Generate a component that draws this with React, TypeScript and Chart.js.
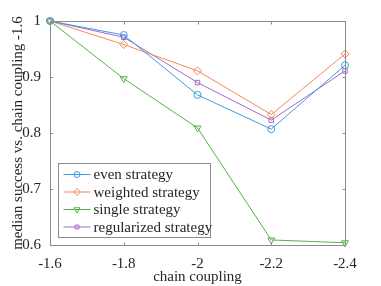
import { useEffect, useRef } from 'react';
import { Chart, registerables } from 'chart.js';
import { drawPoint } from 'chart.js/helpers';

Chart.register(...registerables);

const couplings = [-1.6, -1.8, -2.0, -2.2, -2.4];
const xTickLabels = ['-1.6', '-1.8', '-2', '-2.2', '-2.4'];
const yTicks = [0.6, 0.7, 0.8, 0.9, 1.0];
const evenStrategy = [1.0, 0.975, 0.868, 0.807, 0.921];
const weightedStrategy = [1.0, 0.958, 0.911, 0.833, 0.941];
const singleStrategy = [1.0, 0.897, 0.809, 0.609, 0.604];
const regularizedStrategy = [1.0, 0.971, 0.890, 0.823, 0.911];
const seriesNames = ['even strategy', 'weighted strategy', 'single strategy', 'regularized strategy'];

const FONT = "'Liberation Serif', 'DejaVu Serif', serif";
const FS = 15;
const AXIS = '#8c8c8c';
const TEXT = '#262626';

const colors = ['#3d9be0', '#f08a5a', '#56b04a', '#a868c6'];
const styles: any[] = ['circle', 'rectRot', 'triangle', 'rect'];
const rotations = [0, 0, 180, 0];
const radii = [3.5, 4, 4, 3.2];

const framePlugin = {
  id: 'frame',
  afterDraw(chart: any) {
    const { ctx, chartArea: a, scales } = chart;
    ctx.save();
    ctx.strokeStyle = AXIS;
    ctx.lineWidth = 1;
    const L = Math.round(a.left) + 0.5;
    const R = Math.round(a.right) + 0.5;
    const T = Math.round(a.top) + 0.5;
    const B = Math.round(a.bottom) + 0.5;
    ctx.strokeRect(L, T, R - L, B - T);
    const tl = 3;
    ctx.beginPath();
    couplings.forEach((v) => {
      const x = Math.round(scales.x.getPixelForValue(v)) + 0.5;
      ctx.moveTo(x, B); ctx.lineTo(x, B - tl);
      ctx.moveTo(x, T); ctx.lineTo(x, T + tl);
    });
    yTicks.forEach((v) => {
      const y = Math.round(scales.y.getPixelForValue(v)) + 0.5;
      ctx.moveTo(L, y); ctx.lineTo(L + tl, y);
      ctx.moveTo(R, y); ctx.lineTo(R - tl, y);
    });
    ctx.stroke();

    // legend
    const lx = Math.round(a.left + 8) + 0.5;
    const ly = Math.round(a.top + 142) + 0.5;
    const lw = 152;
    const lh = 74;
    ctx.fillStyle = '#ffffff';
    ctx.fillRect(lx, ly, lw, lh);
    ctx.strokeStyle = AXIS;
    ctx.strokeRect(lx, ly, lw, lh);
    ctx.font = `${FS}px ${FONT}`;
    ctx.textBaseline = 'middle';
    ctx.textAlign = 'left';
    chart.data.datasets.forEach((ds: any, i: number) => {
      const cy = ly + 11 + i * 17.5;
      ctx.strokeStyle = colors[i];
      ctx.lineWidth = 1;
      ctx.beginPath();
      ctx.moveTo(lx + 5, cy);
      ctx.lineTo(lx + 32, cy);
      ctx.stroke();
      ctx.fillStyle = 'rgba(0,0,0,0)';
      drawPoint(ctx, { pointStyle: styles[i], rotation: rotations[i], radius: radii[i] - 0.5, borderWidth: 1 } as any, lx + 18.5, cy);
      ctx.fillStyle = TEXT;
      ctx.fillText(ds.label, lx + 35, cy + 1);
    });
    ctx.restore();
  },
};

export default function App() {
  const ref = useRef<HTMLCanvasElement>(null);
  useEffect(() => {
    document.body.style.margin = '0';
    const series = [evenStrategy, weightedStrategy, singleStrategy, regularizedStrategy];
    const chart = new Chart(ref.current!, {
      type: 'line',
      data: {
        datasets: series.map((arr, i) => ({
          label: seriesNames[i],
          data: couplings.map((x, j) => ({ x, y: arr[j] })),
          borderColor: colors[i],
          backgroundColor: 'rgba(0,0,0,0)',
          borderWidth: 1,
          pointStyle: styles[i],
          pointRotation: rotations[i],
          pointRadius: radii[i],
          pointBorderWidth: 1,
          pointBorderColor: colors[i],
          pointBackgroundColor: 'rgba(0,0,0,0)',
          tension: 0,
          clip: false as any,
        })),
      },
      options: {
        animation: false,
        responsive: false,
        devicePixelRatio: 1,
        layout: { padding: { top: 21, right: 36, left: 0, bottom: 0 } },
        plugins: { legend: { display: false }, tooltip: { enabled: false } },
        scales: {
          x: {
            type: 'linear',
            reverse: true,
            min: -2.4,
            max: -1.6,
            grid: { display: false, drawTicks: false },
            border: { display: false },
            afterBuildTicks: (s: any) => { s.ticks = couplings.map((v) => ({ value: v })); },
            afterFit: (s: any) => { s.height = 41; },
            ticks: {
              padding: 10,
              color: TEXT,
              font: { family: FONT, size: FS },
              callback: (v: any) => {
                const i = couplings.findIndex((c) => Math.abs(c - Number(v)) < 1e-6);
                return i >= 0 ? xTickLabels[i] : '';
              },
            },
            title: { display: true, text: 'chain coupling', color: TEXT, font: { family: FONT, size: FS }, padding: { top: 0, bottom: 0 } },
          },
          y: {
            type: 'linear',
            min: 0.6,
            max: 1.0,
            grid: { display: false, drawTicks: false },
            border: { display: false },
            afterBuildTicks: (s: any) => { s.ticks = yTicks.map((v) => ({ value: v })); },
            afterFit: (s: any) => { s.width = 50; },
            ticks: {
              padding: 9,
              color: TEXT,
              font: { family: FONT, size: FS },
              callback: (v: any) => (Math.abs(Number(v) - 1) < 1e-6 ? '1' : Number(v).toFixed(1)),
            },
            title: { display: true, text: 'median success vs. chain coupling -1.6', color: TEXT, font: { family: FONT, size: FS }, padding: { top: 9, bottom: 0 } },
          },
        },
      },
      plugins: [framePlugin],
    });
    return () => chart.destroy();
  }, []);
  return <canvas ref={ref} width={381} height={286} style={{ display: 'block' }} />;
}
